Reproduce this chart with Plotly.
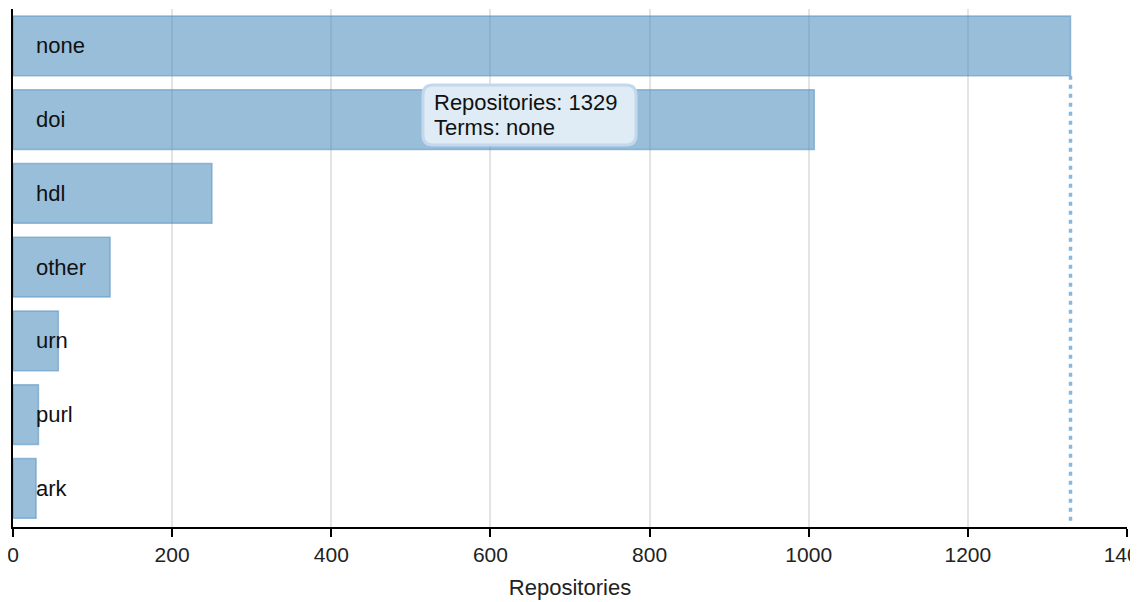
import plotly.graph_objects as go

terms = ["none", "doi", "hdl", "other", "urn", "purl", "ark"]
repositories = [1329, 1007, 250, 122, 57, 32, 29]
x_ticks = [0, 200, 400, 600, 800, 1000, 1200, 1400]
highlight_term = "none"

# page body has an 8px margin; the figure sits at (8, 8)
OFF = 8
W, H = 1130, 594
ML, MR, MT, MB = 5, 11, 1, 75
FONT = "Liberation Sans, Arial, sans-serif"

fig = go.Figure()
fig.add_trace(go.Bar(
    y=terms, x=repositories, orientation="h", width=0.81,
    marker=dict(color="rgba(74,140,190,0.57)",
                line=dict(color="rgba(95,150,195,0.6)", width=1.5)),
    hoverinfo="skip",
))

# bar labels inside the bars
for t in terms:
    fig.add_annotation(x=0, y=t, text=t, showarrow=False, xanchor="left",
                       xshift=21, font=dict(family=FONT, size=22, color="#111"))

# dotted guide line at the highlighted value
hi = terms.index(highlight_term)
hv = repositories[hi]
fig.add_shape(type="line", xref="x", yref="y", x0=hv, x1=hv,
              y0=hi + 0.405, y1=len(terms) - 0.5,
              line=dict(color="#86b8e0", width=3.5, dash="4px,5px"))

# tooltip box (rounded) in paper coords; positions given in window pixels
pw, ph = W - ML - MR, H - MT - MB
def px2paper(px, py):
    return (px - OFF - ML) / pw, (OFF + H - MB - py) / ph

x0p, y0p, x1p, y1p, r = 423, 85, 636, 145, 10
def pt(px, py):
    a, b = px2paper(px, py)
    return f"{a:.5f},{b:.5f}"
path = (f"M {pt(x0p + r, y0p)} L {pt(x1p - r, y0p)} Q {pt(x1p, y0p)} {pt(x1p, y0p + r)} "
        f"L {pt(x1p, y1p - r)} Q {pt(x1p, y1p)} {pt(x1p - r, y1p)} "
        f"L {pt(x0p + r, y1p)} Q {pt(x0p, y1p)} {pt(x0p, y1p - r)} "
        f"L {pt(x0p, y0p + r)} Q {pt(x0p, y0p)} {pt(x0p + r, y0p)} Z")
fig.add_shape(type="path", xref="paper", yref="paper", path=path,
              fillcolor="#dfebf5", line=dict(color="#c3d8ec", width=3), layer="above")
tooltip_lines = [f"Repositories: {hv}", f"Terms: {highlight_term}"]
for i, line in enumerate(tooltip_lines):
    tx, ty = px2paper(432, 103 + 24 * i)
    fig.add_annotation(xref="paper", yref="paper", x=tx, y=ty, xanchor="left",
                       yanchor="middle", text=line, showarrow=False,
                       font=dict(family=FONT, size=22, color="#111"))

fig.update_layout(
    width=W, height=H, margin=dict(l=ML, r=MR, t=MT, b=MB),
    plot_bgcolor="white", paper_bgcolor="white", showlegend=False,
    hovermode=False,
    font=dict(family=FONT, size=22, color="#111"),
)
fig.update_xaxes(range=[0, 1400], tickvals=x_ticks, showgrid=True, gridcolor="#e4e4e4",
                 gridwidth=2, zeroline=False, showline=True, linecolor="black", linewidth=2,
                 ticks="outside", ticklen=8, tickwidth=2, tickcolor="black",
                 ticklabeloverflow="allow", automargin=False,
                 tickfont=dict(family=FONT, size=21, color="#222"),
                 title=dict(text="Repositories", font=dict(family=FONT, size=22, color="#222"),
                            standoff=14))
fig.update_yaxes(categoryorder="array", categoryarray=terms, autorange="reversed",
                 showticklabels=False, showgrid=False, zeroline=False, showline=True,
                 linecolor="black", linewidth=2, ticks="", automargin=False)

fig.write_html("out.html", config={"displayModeBar": False})
